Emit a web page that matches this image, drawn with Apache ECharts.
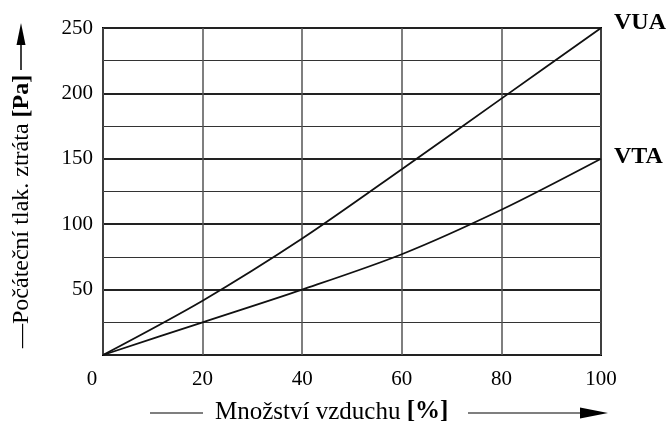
<!DOCTYPE html>
<html>
<head>
<meta charset="utf-8">
<script src="https://cdn.jsdelivr.net/npm/echarts@6/dist/echarts.min.js"></script>
<style>html,body{margin:0;padding:0;background:#fff;}#c{width:669px;height:432px;}</style>
</head>
<body>
<div id="c"></div>
<script>
const airflow = [0, 20, 40, 60, 80, 100];
const vuaValues = [0, 41.5, 89, 142, 196, 250];
const vtaValues = [0, 25, 50, 77, 111, 150];
const seriesNames = ['VUA', 'VTA'];
const xTitle = 'Množství vzduchu ';
const xUnit = '[%]';
const yTitle = '—Počáteční tlak. ztráta ';
const yUnit = '[Pa]';

const FONT = '"Liberation Serif", "Times New Roman", serif';
const chart = echarts.init(document.getElementById('c'), null, {renderer: 'canvas'});

function pairs(vals) { return airflow.map((x, i) => [x, vals[i]]); }

const endLabel = (dy) => ({
  show: true,
  formatter: '{a}',
  fontFamily: FONT,
  fontWeight: 'bold',
  fontSize: 24,
  color: '#000',
  distance: 13,
  offset: [0, dy]
});

chart.setOption({
  animation: false,
  backgroundColor: '#fff',
  grid: {left: 103, right: 68, top: 28, bottom: 77, show: true, borderColor: '#000', borderWidth: 2, backgroundColor: 'transparent'},
  xAxis: {
    type: 'value', min: 0, max: 100, interval: 20,
    axisLine: {show: false}, axisTick: {show: false},
    axisLabel: {
      fontFamily: FONT, fontSize: 21, color: '#000', margin: 14,
      formatter: v => v === 0 ? '{z|0}' : String(v),
      rich: {z: {fontFamily: FONT, fontSize: 21, color: '#000', padding: [0, 22, 0, 0]}}
    },
    splitLine: {show: true, lineStyle: {color: '#555', width: 1.5}}
  },
  yAxis: {
    type: 'value', min: 0, max: 250, interval: 50,
    axisLine: {show: false}, axisTick: {show: false},
    axisLabel: {fontFamily: FONT, fontSize: 21, color: '#000', margin: 10, formatter: v => v === 0 ? '' : String(v)},
    splitLine: {show: true, lineStyle: {color: '#222', width: 2}},
    minorTick: {show: false, splitNumber: 2},
    minorSplitLine: {show: true, lineStyle: {color: '#333', width: 1}}
  },
  series: [
    {name: seriesNames[0], type: 'line', data: pairs(vuaValues), smooth: 0.3, symbol: 'none',
     lineStyle: {color: '#111', width: 1.8}, endLabel: endLabel(-5)},
    {name: seriesNames[1], type: 'line', data: pairs(vtaValues), smooth: 0.3, symbol: 'none',
     lineStyle: {color: '#111', width: 1.8}, endLabel: endLabel(-2)}
  ],
  graphic: [
    {type: 'text', x: 22, y: 348, rotation: Math.PI / 2,
     style: {text: yTitle + '{b|' + yUnit + '}', font: '24px ' + FONT, fill: '#000', textAlign: 'left', textVerticalAlign: 'middle',
       rich: {b: {fontFamily: FONT, fontSize: 24, fontWeight: 'bold', fill: '#000'}}}},
    {type: 'line', shape: {x1: 21, y1: 70, x2: 21, y2: 44}, style: {stroke: '#000', lineWidth: 1.5}},
    {type: 'polygon', shape: {points: [[21, 23], [16.5, 45], [25.5, 45]]}, style: {fill: '#000'}},
    {type: 'text', x: 215, y: 412,
     style: {text: xTitle + '{b|' + xUnit + '}', font: '25px ' + FONT, fill: '#000', textAlign: 'left', textVerticalAlign: 'middle',
       rich: {b: {fontFamily: FONT, fontSize: 25, fontWeight: 'bold', fill: '#000'}}}},
    {type: 'line', shape: {x1: 150, y1: 413, x2: 203, y2: 413}, style: {stroke: '#000', lineWidth: 1.2}},
    {type: 'line', shape: {x1: 468, y1: 413, x2: 585, y2: 413}, style: {stroke: '#000', lineWidth: 1.2}},
    {type: 'polygon', shape: {points: [[608, 413], [580, 407.5], [580, 418.5]]}, style: {fill: '#000'}}
  ]
});
</script>
</body>
</html>
